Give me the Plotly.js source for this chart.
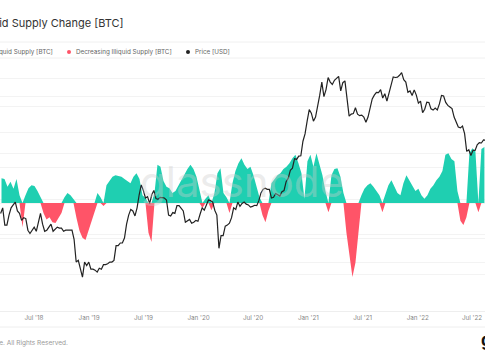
<!DOCTYPE html>
<html><head><meta charset="utf-8">
<script src="https://cdn.plot.ly/plotly-3.0.1.min.js"></script>
<style>
html,body{margin:0;padding:0;width:485px;height:360px;overflow:hidden;background:#fff;}
#wrap{position:absolute;left:-100px;top:0;width:585px;height:360px;}
</style></head><body>
<div id="wrap"></div>
<script>
// ---- data ----
const supplyStart = '2018-03-10';
const supplyStepDays = 10;
const supplyChange = [
 35000,34000,23000,30000,20000,34000,11000,-34000,11000,21000,
 25000,24000,17000,8000,-14000,-23000,-20000,-27000,-28000,-21000,
 -14000,8000,14000,11000,6000,-21000,-39000,-49000,-52000,-39000,
 -25000,-11000,14000,8000,-4000,25000,31000,37000,39000,38000,
 37000,34000,31000,28000,37000,42000,34000,11000,7000,-42000,
 -55000,14000,54000,51000,31000,23000,21000,14000,17000,25000,
 34000,42000,48000,54000,48000,37000,17000,-7000,6000,11000,
 -10000,14000,42000,49000,14000,8000,-14000,28000,45000,56000,
 63000,54000,48000,51000,39000,25000,8000,-17000,-27000,-11000,
 28000,34000,39000,42000,48000,51000,56000,63000,68000,56000,
 42000,6000,59000,68000,51000,70000,54000,39000,17000,-13000,
 39000,48000,49000,37000,14000,-42000,-77000,-104000,-84000,-42000,
 11000,20000,25000,28000,23000,17000,11000,-13000,14000,25000,
 32000,23000,14000,11000,28000,39000,31000,23000,17000,20000,
 11000,6000,11000,20000,25000,32000,37000,45000,68000,70000,
 62000,59000,17000,-25000,-31000,-20000,70000,77000,73000,-13000,
 76000,79000
];
const priceStart = '2018-03-12';
const priceStepDays = 7;
const priceUSD = [
 // 2018
 8200,8900,6900,6900,8000,8900,9300,9700,8500,8200,7400,7700,7600,6400,6100,6400,
 6700,6300,7400,8200,7000,6300,6400,6700,7000,6300,6500,6700,6600,6600,6300,6400,
 6400,6400,6400,5600,4000,4100,3600,3200,4000,3800,4000,
 // 2019
 3600,3600,3550,3450,3650,3600,3850,3850,3900,4000,4000,4100,5100,5100,5300,5300,5700,
 7000,8000,8700,8500,7900,8900,10800,12500,11500,10300,10500,9500,10800,
 11500,10200,10100,10400,10400,10300,10000,8000,7900,8300,8200,9200,9200,
 8800,8500,7200,7400,7500,7100,7200,7400,7300,
 // 2020
 8100,8900,8600,9300,10000,9900,9700,8600,8000,4900,5900,5900,6800,
 6900,7100,7700,8900,8700,9700,9100,9500,9700,9400,9300,9000,9100,
 9250,9200,9900,11100,11700,11900,11700,11700,10300,10400,11000,10800,10600,
 11300,11500,13100,13800,15500,16000,18400,18200,19100,19200,23800,26500,32000,
 // 2021
 38000,36000,32000,34000,39000,47000,57000,46000,51000,61000,57000,55000,58500,
 60000,62000,50000,56500,58000,46000,34500,35500,35800,39000,35500,34700,35000,
 34000,31500,34000,39900,44500,47000,49000,48800,51000,45000,48000,43000,48000,
 55000,61500,61000,61300,63000,65500,59000,57000,49000,50000,46700,50800,47000,
 // 2022
 41800,43000,36300,38200,42400,42200,38400,37700,38800,37800,41300,46800,46400,
 42200,40400,39500,38500,34000,31300,29400,29000,29800,26600,20500,21000,19300,
 20800,20800,22600,23300,23200,24300,24100
];
const tickDates = ['2018-07-01','2019-01-01','2019-07-01','2020-01-01','2020-07-01','2021-01-01','2021-07-01','2022-01-01','2022-07-01'];
const tickLabels = ["Jul '18","Jan '19","Jul '19","Jan '20","Jul '20","Jan '21","Jul '21","Jan '22","Jul '22"];
const seriesNames = ['Increasing Illiquid Supply [BTC]','Decreasing Illiquid Supply [BTC]','Price [USD]'];
const seriesColors = ['#1fcfb1','#ff5468','#222222'];

// ---- helpers ----
const DAY = 86400000;
function dateAt(start, days){ return new Date(Date.parse(start+'T00:00:00Z') + days*DAY).toISOString().slice(0,10); }
const supplyX = supplyChange.map((v,i)=>dateAt(supplyStart, i*supplyStepDays + supplyStepDays/2));
const priceX = priceUSD.map((v,i)=>dateAt(priceStart, i*priceStepDays));

const OFF = 100, W = 585, H = 360, PW = 485, PT = 60, PB = 311;
const px = sx => sx / PW;               // screen x -> paper x
const py = sy => (PB - sy) / (PB - PT); // screen y -> paper y

const traces = [
 {type:'scatter', mode:'lines', x:supplyX, y:supplyChange.map(v=>Math.max(v,0)), fill:'tozeroy',
  fillcolor:seriesColors[0], line:{width:0, color:seriesColors[0]}, name:seriesNames[0], yaxis:'y'},
 {type:'scatter', mode:'lines', x:supplyX, y:supplyChange.map(v=>Math.min(v,0)), fill:'tozeroy',
  fillcolor:seriesColors[1], line:{width:0, color:seriesColors[1]}, name:seriesNames[1], yaxis:'y'},
 {type:'scatter', mode:'lines', x:priceX, y:priceUSD, yaxis:'y2', name:seriesNames[2],
  line:{color:seriesColors[2], width:1.2}}
];

const legendY = py(52);
const legendItems = [
 {dot:-47, text:-42},
 {dot:69, text:74},
 {dot:188, text:193}
];
const annotations = [];
const shapes = [];
legendItems.forEach((it,i)=>{
 annotations.push({xref:'paper', yref:'paper', x:px(it.text), y:legendY, xanchor:'left', yanchor:'middle',
   text:seriesNames[i], showarrow:false, font:{family:'Inter', size:6.3, color:'#666'}});
 shapes.push({type:'circle', xref:'paper', yref:'paper', xsizemode:'pixel', ysizemode:'pixel',
   xanchor:px(it.dot), yanchor:legendY, x0:-2, x1:2, y0:-2, y1:2, fillcolor:seriesColors[i], line:{width:0}});
});
shapes.push({type:'line', xref:'paper', yref:'paper', x0:-0.3, x1:1, y0:py(42), y1:py(42), line:{color:'#f0f0f0', width:1}});
shapes.push({type:'line', xref:'paper', yref:'paper', x0:-0.3, x1:1, y0:py(58), y1:py(58), line:{color:'#f0f0f0', width:1}});
shapes.push({type:'line', xref:'paper', yref:'paper', x0:-0.3, x1:1, y0:py(327), y1:py(327), line:{color:'#eeeeee', width:1}});
annotations.push({xref:'paper', yref:'paper', x:px(70), y:py(343), xanchor:'right', yanchor:'middle',
  text:'© 2022 Glassnode. All Rights Reserved.', showarrow:false, font:{family:'Inter', size:6.5, color:'#999'}});
annotations.push({xref:'paper', yref:'paper', x:px(479), y:py(340), xanchor:'left', yanchor:'middle',
  text:'<b>glassnode</b>', showarrow:false, font:{family:'Inter', size:17, color:'#111'}});
annotations.push({xref:'paper', yref:'paper', x:px(242), y:py(181), xanchor:'center', yanchor:'middle',
  text:'glassnode', showarrow:false, font:{family:'Inter', size:42, color:'rgba(205,205,205,0.38)'}});

const layout = {
 width:W, height:H,
 margin:{l:OFF, r:0, t:PT, b:H-PB, pad:0},
 paper_bgcolor:'#fff', plot_bgcolor:'#fff',
 showlegend:false,
 title:{text:'Illiquid Supply Change [BTC]', font:{family:'Inter', size:11, color:'#333'},
   xref:'container', yref:'container', x:(OFF-25)/W, xanchor:'left', y:1-23/H, yanchor:'middle'},
 xaxis:{type:'date', range:['2018-03-10','2022-08-13'], tickvals:tickDates, ticktext:tickLabels,
   tickfont:{family:'Inter', size:6.3, color:'#888'}, showgrid:false, showline:true, linecolor:'#eeeeee',
   linewidth:1, ticks:'', zeroline:false, fixedrange:true},
 yaxis:{range:[-152000,201400], showticklabels:false, tickvals:[-100000,-50000,0,50000,100000,150000,200000],
   gridcolor:'#f3f3f3', zeroline:false, showline:false, fixedrange:true},
 yaxis2:{type:'log', overlaying:'y', side:'right', range:[Math.log10(1942),Math.log10(78960)], showticklabels:false,
   tickvals:[4000,6000,10000,20000,40000,60000], showgrid:true, gridcolor:'#f3f3f3', zeroline:false, showline:false, fixedrange:true},
 annotations:annotations, shapes:shapes
};
Plotly.newPlot('wrap', traces, layout, {displayModeBar:false, staticPlot:true});
</script>
</body></html>
